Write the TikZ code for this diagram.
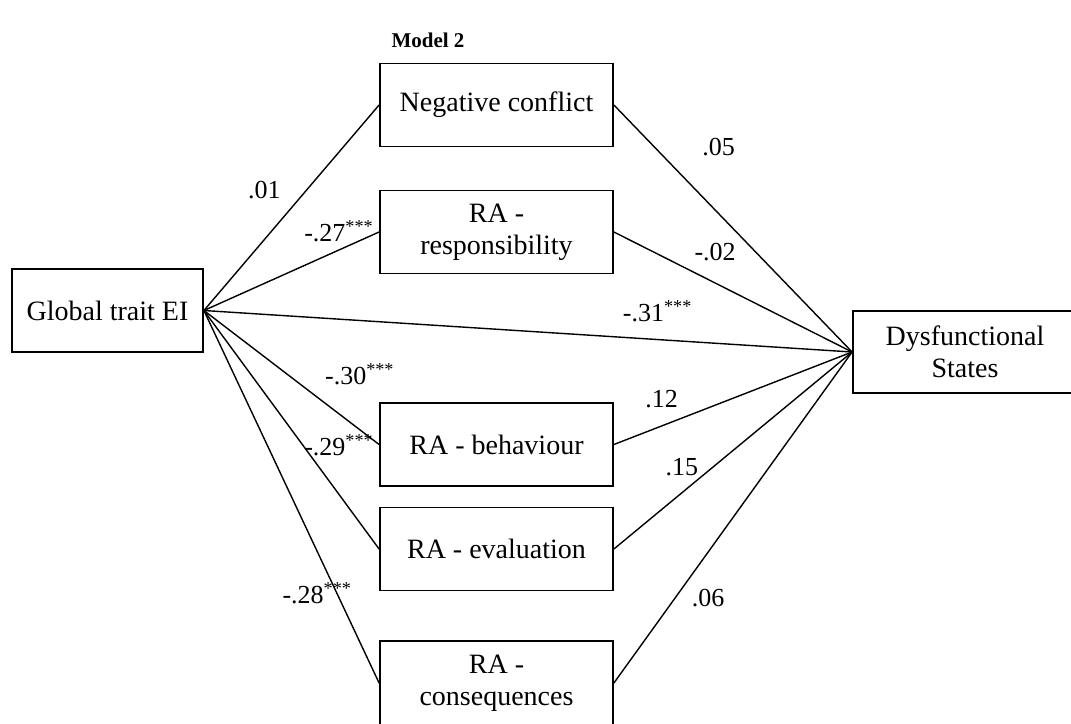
\documentclass[tikz,border=0pt]{standalone}
\usepackage{fontspec}
\setmainfont{Liberation Serif}
\usepackage{tikz}
\usetikzlibrary{positioning}
\tikzset{
  box/.style={draw, line width=0.9pt, minimum width=116.5pt, minimum height=41.5pt,
    inner sep=0pt, align=center, font=\fontsize{14}{16}\selectfont},
  coef/.style={font=\fontsize{13}{15}\selectfont, inner sep=1pt,
    text height=8.8pt, text depth=0pt},
  path/.style={line width=0.7pt}
}
\newcommand{\sig}{\textsuperscript{***}}

\begin{document}
\begin{tikzpicture}[x=0.5pt, y=-0.5pt]
            \useasboundingbox (0,0) rectangle (1071,723);
            %Nodes
            \node[font=\fontsize{10.5}{12}\selectfont\bfseries] at (428,40) (title) {Model 2};
            \node[box, minimum width=95.5pt] at (107.5,310.5) (gei) {Global trait EI};
            \node[box] at (496.5,105) (nc) {Negative conflict};
            \node[box] at (496.5,232) (rr) {RA -\\responsibility};
            \node[box] at (496.5,444.5) (rb) {RA - behaviour};
            \node[box] at (496.5,549) (re) {RA - evaluation};
            \node[box, minimum height=42pt] at (496.5,683) (rc) {RA -\\consequences};
            \node[box, minimum width=112pt, minimum height=41pt] at (965,352) (ds) {Dysfunctional\\States};

            %Lines
            \draw[path] (gei.east) -- (nc.west) node[coef, pos=.345, above=19pt] {.01};
            \draw[path] (gei.east) -- (rr.west) node[coef, pos=.771, above=2.9pt] {-.27\sig};
            \draw[path] (gei.east) -- (ds.west) node[coef, pos=.70, above=7.9pt] {-.31\sig};
            \draw[path] (gei.east) -- (rb.west) node[coef, pos=.89, above=21.2pt] {-.30\sig};
            \draw[path] (gei.east) -- (re.west) node[coef, pos=.771, above=18pt] {-.29\sig};
            \draw[path] (gei.east) -- (rc.west) node[coef, pos=.647, below=15.9pt] {-.28\sig};
            \draw[path] (nc.east) -- (ds.west) node[coef, pos=.44, above=27.6pt] {.05};
            \draw[path] (rr.east) -- (ds.west) node[coef, pos=.425, above=9.9pt] {-.02};
            \draw[path] (rb.east) -- (ds.west) node[coef, pos=.2, above=7.9pt] {.12};
            \draw[path] (re.east) -- (ds.west) node[coef, pos=.285, above=7.3pt] {.15};
            \draw[path] (rc.east) -- (ds.west) node[coef, pos=.396, below=17.2pt] {.06};
        \end{tikzpicture}
\end{document}
